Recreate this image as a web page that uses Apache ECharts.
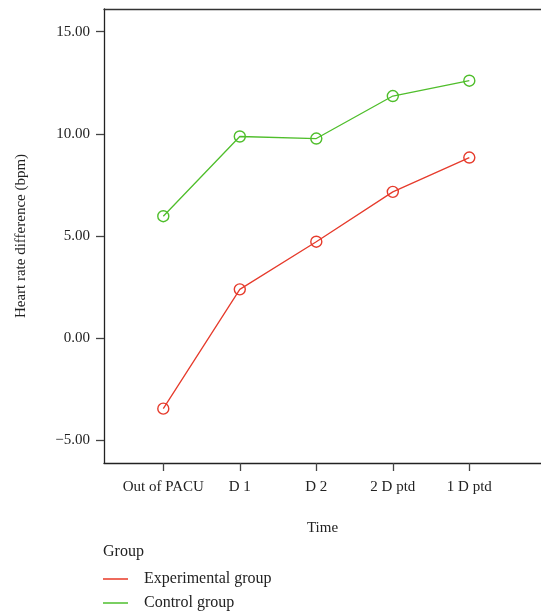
<!DOCTYPE html>
<html>
<head>
<meta charset="utf-8">
<script src="https://cdn.jsdelivr.net/npm/echarts@6/dist/echarts.min.js"></script>
<style>html,body{margin:0;padding:0;background:#fff}#c{width:541px;height:611px}</style>
</head>
<body>
<div id="c"></div>
<script>
const categories = ['Out of PACU', 'D 1', 'D 2', '2 D ptd', '1 D ptd'];
const experimental = [-3.45, 2.39, 4.72, 7.16, 8.84];
const control = [5.97, 9.87, 9.77, 11.85, 12.60];
const yTicks = [-5, 0, 5, 10, 15];
const xTicks = [0, 1, 2, 3, 4];

const FONT = 'Liberation Serif';
const TXT = '#222';
const RED = '#e63b2c';
const GREEN = '#4fbe2b';

const chart = echarts.init(document.getElementById('c'), null, {renderer: 'canvas'});
chart.setOption({
  animation: false,
  textStyle: {fontFamily: FONT, color: TXT},
  grid: {left: 104, right: 0, top: 9, bottom: 148, containLabel: false},
  xAxis: [{
    type: 'value', min: -0.775, max: 4.937,
    name: 'Time', nameLocation: 'middle', nameGap: 58,
    nameTextStyle: {fontFamily: FONT, fontSize: 15, color: TXT},
    axisLine: {show: true, onZero: false, lineStyle: {color: '#222', width: 1.3}},
    axisTick: {show: true, length: 8, customValues: xTicks, lineStyle: {color: '#444', width: 1.3}},
    axisLabel: {customValues: xTicks, margin: 17, fontFamily: FONT, fontSize: 15, color: TXT,
      formatter: v => categories[v] || ''},
    splitLine: {show: false}
  }, {
    type: 'value', position: 'top', min: -0.775, max: 4.937,
    axisLine: {show: true, onZero: false, lineStyle: {color: '#333', width: 1.3}},
    axisTick: {show: false}, axisLabel: {show: false}, splitLine: {show: false}
  }],
  yAxis: {
    type: 'value', min: -6.11, max: 16.11,
    name: 'Heart rate difference (bpm)', nameLocation: 'middle', nameGap: 75, nameRotate: 90,
    nameTextStyle: {fontFamily: FONT, fontSize: 15, color: TXT},
    axisLine: {show: true, onZero: false, lineStyle: {color: '#222', width: 1.3}},
    axisTick: {show: true, length: 8, customValues: yTicks, lineStyle: {color: '#444', width: 1.3}},
    axisLabel: {customValues: yTicks, margin: 14, fontFamily: FONT, fontSize: 15, color: TXT,
      formatter: v => v.toFixed(2).replace('-', '\u2212')},
    splitLine: {show: false}
  },
  legend: {
    orient: 'vertical', left: 103, top: 571, padding: 0, icon: 'rect', itemWidth: 25, itemHeight: 2,
    itemGap: 8,
    textStyle: {fontFamily: FONT, fontSize: 16, color: TXT, padding: [0, 0, 0, 11], lineHeight: 16},
    data: [
      {name: 'Experimental group', itemStyle: {color: '#ee6a5c', borderWidth: 0}},
      {name: 'Control group', itemStyle: {color: '#7acf62', borderWidth: 0}}
    ]
  },
  graphic: [{
    type: 'text', left: 103, top: 544,
    style: {text: 'Group', font: '16px "Liberation Serif"', fill: TXT}
  }],
  series: [{
    name: 'Experimental group', type: 'line',
    data: experimental.map((v, i) => [i, v]),
    symbol: 'circle', symbolSize: 11,
    itemStyle: {color: 'rgba(0,0,0,0)', borderColor: RED, borderWidth: 1.4},
    lineStyle: {color: RED, width: 1.3}
  }, {
    name: 'Control group', type: 'line',
    data: control.map((v, i) => [i, v]),
    symbol: 'circle', symbolSize: 11,
    itemStyle: {color: 'rgba(0,0,0,0)', borderColor: GREEN, borderWidth: 1.4},
    lineStyle: {color: GREEN, width: 1.3}
  }]
});
</script>
</body>
</html>
